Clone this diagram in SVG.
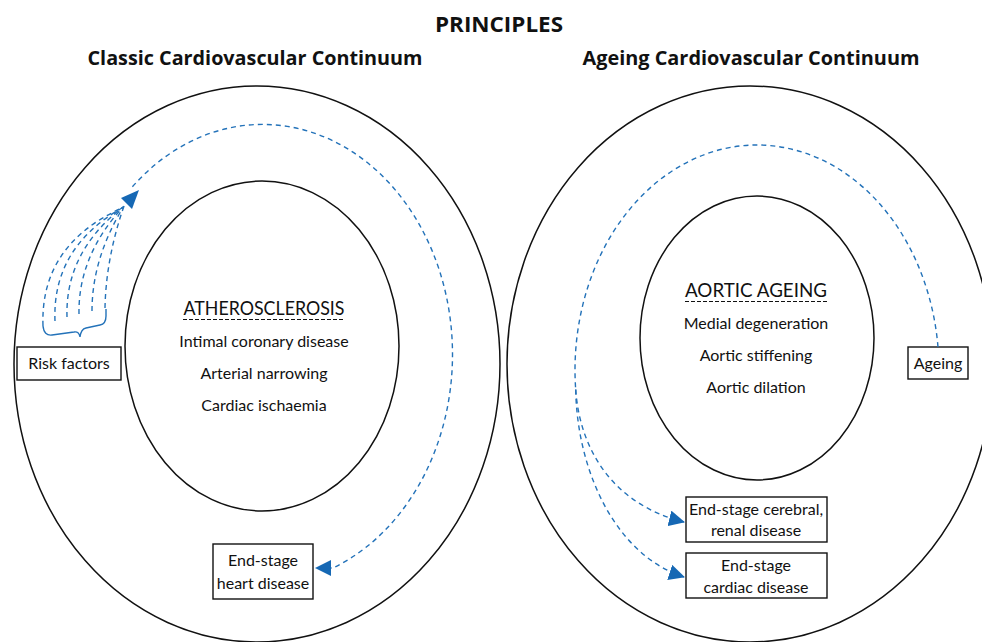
<svg xmlns="http://www.w3.org/2000/svg" width="982" height="642" viewBox="0 0 982 642">
  <style>
    .bg { fill: #ffffff; }
    .ring { fill: none; stroke: #111111; stroke-width: 1.5; }
    .box { fill: #ffffff; stroke: #111111; stroke-width: 1.4; }
    .title { font-family: "Open Sans", "Liberation Sans", sans-serif; font-weight: 700; fill: #111111; text-anchor: middle; }
    .label { font-family: Lato, "Open Sans", "Liberation Sans", sans-serif; font-size: 16px; fill: #111111; text-anchor: middle; }
    .caps { font-size: 18.5px; }
    .uline { stroke: #111111; stroke-width: 1; stroke-dasharray: 4 2; }
    .flow { fill: none; stroke: #2372b9; stroke-width: 1.4; stroke-dasharray: 5 4; }
    .brace { fill: none; stroke: #2372b9; stroke-width: 1.4; }
    .head { fill: #1668b4; }
  </style>
  <defs>
    <marker id="arrow" viewBox="0 0 16 16" refX="15" refY="8" markerWidth="16" markerHeight="16" markerUnits="userSpaceOnUse" orient="auto">
      <path class="head" d="M0,0 L16,8 L0,16 z"/>
    </marker>
    <marker id="arrowBase" viewBox="0 0 16 16" refX="0" refY="8" markerWidth="16" markerHeight="16" markerUnits="userSpaceOnUse" orient="auto">
      <path class="head" d="M0,0 L16,8 L0,16 z"/>
    </marker>
  </defs>

  <rect class="bg" x="0" y="0" width="982" height="642"/>

  <!-- headings -->
  <g id="headings">
    <text class="title" x="499" y="32" font-size="22" textLength="128" lengthAdjust="spacingAndGlyphs">PRINCIPLES</text>
    <text class="title" x="255" y="65" font-size="19" textLength="335" lengthAdjust="spacingAndGlyphs">Classic Cardiovascular Continuum</text>
    <text class="title" x="751" y="65" font-size="19" textLength="337" lengthAdjust="spacingAndGlyphs">Ageing Cardiovascular Continuum</text>
  </g>

  <!-- classic continuum -->
  <g id="classic-outer">
    <ellipse class="ring" cx="257" cy="364" rx="243" ry="278"/>
  </g>
  <g id="atherosclerosis">
    <ellipse class="ring" cx="262" cy="346" rx="137" ry="165"/>
    <text class="label caps" x="264" y="315" textLength="161" lengthAdjust="spacingAndGlyphs">ATHEROSCLEROSIS</text>
    <line class="uline" x1="183" y1="319.5" x2="344" y2="319.5"/>
    <text class="label" x="264" y="347">Intimal coronary disease</text>
    <text class="label" x="264" y="379">Arterial narrowing</text>
    <text class="label" x="264" y="411">Cardiac ischaemia</text>
  </g>
  <g id="risk-factors">
    <rect class="box" x="17" y="347" width="104" height="33"/>
    <text class="label" x="69" y="369">Risk factors</text>
  </g>
  <g id="end-stage-heart">
    <rect class="box" x="213" y="544" width="100" height="55"/>
    <text class="label" x="263" y="566">End-stage</text>
    <text class="label" x="263" y="589">heart disease</text>
  </g>

  <!-- ageing continuum -->
  <g id="ageing-outer">
    <ellipse class="ring" cx="750" cy="364" rx="243" ry="278"/>
  </g>
  <g id="aortic-ageing">
    <ellipse class="ring" cx="757" cy="338" rx="117" ry="142"/>
    <text class="label caps" x="756" y="297" textLength="142" lengthAdjust="spacingAndGlyphs">AORTIC AGEING</text>
    <line class="uline" x1="685" y1="301.5" x2="827" y2="301.5"/>
    <text class="label" x="756" y="329">Medial degeneration</text>
    <text class="label" x="756" y="361">Aortic stiffening</text>
    <text class="label" x="756" y="393">Aortic dilation</text>
  </g>
  <g id="ageing">
    <rect class="box" x="908" y="347" width="60" height="32"/>
    <text class="label" x="938" y="369">Ageing</text>
  </g>
  <g id="end-stage-cerebral-renal">
    <rect class="box" x="686" y="497" width="141" height="45"/>
    <text class="label" x="756" y="515">End-stage cerebral,</text>
    <text class="label" x="756" y="536">renal disease</text>
  </g>
  <g id="end-stage-cardiac">
    <rect class="box" x="686" y="553" width="141" height="45"/>
    <text class="label" x="756" y="571">End-stage</text>
    <text class="label" x="756" y="593">cardiac disease</text>
  </g>

  <!-- connectors -->
  <g id="connectors">
    <!-- risk factor strands gathered by a brace -->
    <path class="flow" d="M43 326 Q40 245 122 208"/>
    <path class="flow" d="M55 321 Q52 248 122 208"/>
    <path class="flow" d="M67 317 Q65 252 123 207"/>
    <path class="flow" d="M79 314 Q78 256 123 207"/>
    <path class="flow" d="M92 311 Q92 258 124 206"/>
    <path class="flow" d="M105 308 Q106 258 124 206"/>
    <path class="brace" d="M43 326 Q44 336 52 335 L74 332 Q79 331 80 337 Q81 329 86 328 L100 325 Q106 324 106 316 L106 309"/>
    <polygon class="head" points="139,190 121,198 132,209"/>
    <!-- classic continuum loop -->
    <path class="flow" d="M132.4 186.8 A190 230 0 1 1 333 568 l-2 0" marker-end="url(#arrowBase)"/>
    <!-- ageing continuum loop and branches -->
    <path class="flow" d="M938 347 A182 225 0 0 0 757 145 A182 225 0 0 0 575.7 389.6"/>
    <path class="flow" d="M575.7 389.6 C580 452 615 505 684 522" marker-end="url(#arrow)"/>
    <path class="flow" d="M575.7 389.6 C577 470 615 555 684 577" marker-end="url(#arrow)"/>
  </g>
</svg>
